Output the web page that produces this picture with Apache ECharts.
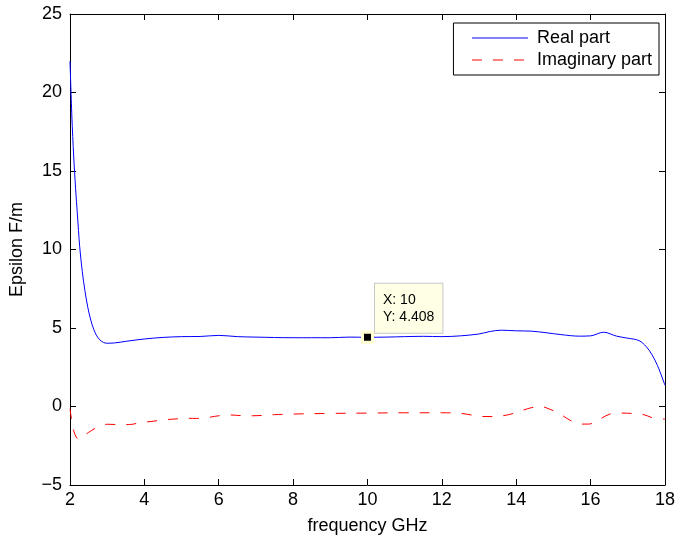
<!DOCTYPE html>
<html>
<head>
<meta charset="utf-8">
<script src="https://cdn.jsdelivr.net/npm/echarts@6/dist/echarts.min.js"></script>
<style>
  html, body { margin: 0; padding: 0; background: #fff; }
  #chart { width: 678px; height: 540px; }
</style>
</head>
<body>
<div id="chart"></div>
<script>
// frequency (GHz) and permittivity
const realFreq = [2.0, 2.05, 2.1, 2.15, 2.2, 2.26, 2.33, 2.4, 2.48, 2.56, 2.64, 2.72, 2.8, 2.9, 3.0, 3.2, 3.5,
  4.0, 4.5, 5.0, 5.5, 6.0, 6.5, 7.0, 8.0, 9.0, 9.5, 10.0, 10.5, 11.0, 11.5, 12.0, 12.5, 13.0, 13.3, 13.6,
  14.0, 14.4, 14.8, 15.2, 15.7, 16.0, 16.35, 16.7, 17.0, 17.3, 17.5, 17.65, 17.8, 18.0]
const realVals = [22.0, 18.5, 15.9, 13.9, 12.2, 10.2, 8.6, 7.4, 6.3, 5.5, 4.9, 4.5, 4.25, 4.08, 4.03, 4.05, 4.15,
  4.3, 4.4, 4.45, 4.46, 4.53, 4.45, 4.42, 4.38, 4.38, 4.42, 4.408, 4.42, 4.45, 4.47, 4.45, 4.5, 4.62, 4.78, 4.86,
  4.82, 4.8, 4.7, 4.58, 4.48, 4.5, 4.73, 4.48, 4.35, 4.2, 3.8, 3.3, 2.6, 1.35]

const imagFreq = [2.0, 2.04, 2.1, 2.18, 2.25, 2.35, 2.5, 2.73, 3.0, 3.3, 3.6, 3.9, 4.2, 4.5, 4.8, 5.1, 5.4, 5.7,
  6.0, 6.3, 6.6, 6.9, 7.5, 8.0, 9.0, 10.0, 11.0, 12.0, 12.4, 12.7, 13.0, 13.4, 13.8, 14.1, 14.4, 14.65, 14.9,
  15.15, 15.45, 15.7, 15.95, 16.2, 16.5, 16.8, 17.1, 17.4, 17.7, 18.0]
const imagVals = [-0.15, -0.8, -1.55, -2.0, -2.08, -1.9, -1.65, -1.33, -1.13, -1.15, -1.15, -1.02, -0.95, -0.85, -0.8, -0.75, -0.76, -0.7,
  -0.59, -0.54, -0.58, -0.59, -0.52, -0.48, -0.44, -0.42, -0.4, -0.4, -0.42, -0.5, -0.63, -0.64, -0.52, -0.3, -0.08, 0.0, -0.17,
  -0.44, -0.88, -1.12, -1.12, -0.87, -0.5, -0.42, -0.44, -0.5, -0.74, -0.8]

// data tip
const tipX = 10
const tipY = 4.408

const font = "'Liberation Sans', Arial, Helvetica, sans-serif"

const chart = echarts.init(document.getElementById('chart'))

const frameAxis = (extra) => Object.assign({
  type: 'value',
  axisLine: { show: true, onZero: false, lineStyle: { color: '#000', width: 1 } },
  axisTick: { show: true, inside: true, length: 6, lineStyle: { color: '#000' } },
  splitLine: { show: false }
}, extra)

chart.setOption({
  animation: false,
  backgroundColor: '#fff',
  textStyle: { fontFamily: font },
  grid: { left: 66, right: 11, top: 14, bottom: 50 },
  legend: {
    orient: 'vertical',
    right: 19,
    top: 23,
    align: 'left',
    padding: [5, 7, 5, 18],
    itemGap: 2,
    itemWidth: 56,
    itemHeight: 14,
    borderColor: '#000',
    borderWidth: 1,
    itemStyle: { opacity: 0 },
    lineStyle: { width: 1 },
    textStyle: { fontFamily: font, fontSize: 18, color: '#000', lineHeight: 20, padding: [0, 0, 0, 4] },
    data: ['Real part', 'Imaginary part']
  },
  xAxis: [
    frameAxis({
      min: 2, max: 18, interval: 2,
      name: 'frequency GHz', nameLocation: 'middle', nameGap: 32,
      nameTextStyle: { fontFamily: font, fontSize: 18, color: '#000' },
      axisLabel: { fontFamily: font, fontSize: 18, color: '#000', margin: 6 }
    }),
    frameAxis({ min: 2, max: 18, interval: 2, position: 'top', axisLabel: { show: false } })
  ],
  yAxis: [
    frameAxis({
      min: -5, max: 25, interval: 5,
      name: 'Epsilon F/m', nameLocation: 'middle', nameGap: 44,
      nameTextStyle: { fontFamily: font, fontSize: 18, color: '#000' },
      axisLabel: {
        fontFamily: font, fontSize: 18, color: '#000', margin: 8,
        formatter: v => String(v).replace('-', '\u2212')
      }
    }),
    frameAxis({ min: -5, max: 25, interval: 5, position: 'right', axisLabel: { show: false } })
  ],
  series: [
    {
      name: 'Real part',
      type: 'line',
      symbol: 'none',
      smooth: 0.35,
      data: realFreq.map((f, i) => [f, realVals[i]]),
      lineStyle: { color: '#0000ff', width: 1 },
      itemStyle: { color: '#0000ff' },
      markPoint: {
        symbol: 'rect',
        symbolSize: 10,
        itemStyle: { color: '#000', borderColor: '#ffffd2', borderWidth: 3 },
        label: {
          show: true,
          position: [14, -47],
          align: 'left',
          verticalAlign: 'top',
          formatter: 'X: ' + tipX + '\nY: ' + tipY,
          fontFamily: font,
          fontSize: 14,
          lineHeight: 17,
          color: '#000',
          backgroundColor: '#ffffe6',
          borderColor: '#c8c8c8',
          borderWidth: 1,
          padding: [8, 8, 7, 8]
        },
        data: [{ coord: [tipX, tipY] }]
      }
    },
    {
      name: 'Imaginary part',
      type: 'line',
      symbol: 'none',
      smooth: 0.35,
      data: imagFreq.map((f, i) => [f, imagVals[i]]),
      lineStyle: { color: '#ff0000', width: 1, type: [10, 11] },
      itemStyle: { color: '#ff0000' }
    }
  ]
})
</script>
</body>
</html>
